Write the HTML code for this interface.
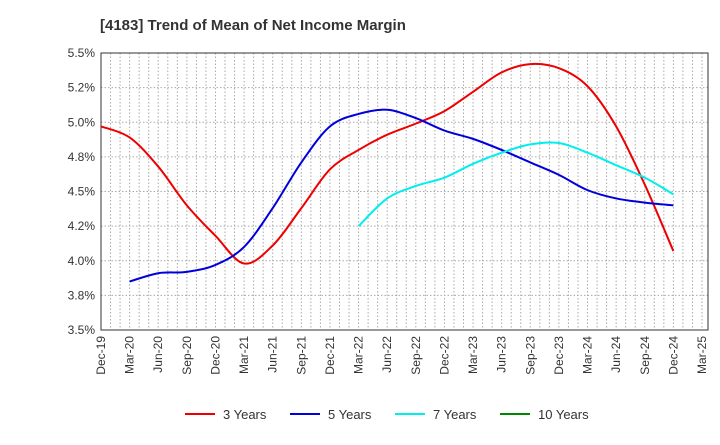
<!DOCTYPE html>
<html><head><meta charset="utf-8"><style>
body{margin:0;background:#fff;font-family:"Liberation Sans",sans-serif}
svg text{font-family:"Liberation Sans",sans-serif}
</style></head><body>
<svg width="720" height="440">
<text x="100" y="30" font-size="15" font-weight="bold" fill="#333">[4183]  Trend of Mean of Net Income Margin</text>
<g id="grid"></g><g id="axes"></g><g id="series"></g><g id="legend"></g>
</svg>
<script>
const xLabels=["Dec-19","Mar-20","Jun-20","Sep-20","Dec-20","Mar-21","Jun-21","Sep-21","Dec-21","Mar-22","Jun-22","Sep-22","Dec-22","Mar-23","Jun-23","Sep-23","Dec-23","Mar-24","Jun-24","Sep-24","Dec-24","Mar-25"];
const yTicks=[3.5,3.75,4.0,4.25,4.5,4.75,5.0,5.25,5.5];
const yTickLabels=["3.5%","3.8%","4.0%","4.2%","4.5%","4.8%","5.0%","5.2%","5.5%"];
const s3=[4.97,4.89,4.68,4.40,4.18,3.98,4.11,4.38,4.66,4.80,4.91,4.99,5.08,5.22,5.36,5.42,5.39,5.26,4.97,4.55,4.07];
const s5=[null,3.85,3.91,3.92,3.97,4.10,4.38,4.71,4.97,5.06,5.09,5.03,4.94,4.88,4.80,4.71,4.62,4.51,4.45,4.42,4.40];
const s7=[null,null,null,null,null,null,null,null,null,4.25,4.45,4.54,4.60,4.70,4.78,4.84,4.85,4.78,4.69,4.60,4.48];
const s10=[];
const L=101,R=702,FR=708,T=53,B=330;
const X=i=>L+(R-L)*i/21, Y=v=>B-(v-3.5)/2*(B-T);
const ns="http://www.w3.org/2000/svg";
function mk(t,a,p){const e=document.createElementNS(ns,t);for(const k in a)e.setAttribute(k,a[k]);p.appendChild(e);return e;}
const g=document.getElementById('grid'),ax=document.getElementById('axes'),se=document.getElementById('series'),lg=document.getElementById('legend');
for(let m=1;m<=65;m++){const x=L+(R-L)*m/63;if(x>=FR)break;const l=mk('line',{x1:x,x2:x,y1:T,y2:B,stroke:'#aaa','stroke-dasharray':'1.5,2','stroke-width':1},g);

}
yTicks.forEach((v,i)=>{const l=mk('line',{x1:L,x2:FR,y1:Y(v),y2:Y(v),stroke:'#aaa','stroke-dasharray':'1.5,2'},g);


const t=mk('text',{x:L-6,y:Y(v)+4,'text-anchor':'end','font-size':12,fill:'#333'},ax);t.textContent=yTickLabels[i];

});
const fr=mk('rect',{x:L,y:T,width:FR-L,height:B-T,fill:'none',stroke:'#333'},ax);


xLabels.forEach((s,i)=>{const x=X(i);const t=mk('text',{x:x+4,y:B+6,'text-anchor':'end','font-size':12,fill:'#333',transform:`rotate(-90 ${x+4} ${B+6})`},ax);t.textContent=s;

});
function path(d){const p=[];d.forEach((v,i)=>{if(v!=null)p.push([X(i),Y(v)]);});if(p.length<2)return '';
let s=`M${p[0][0]},${p[0][1]}`;for(let i=0;i<p.length-1;i++){const p0=p[i-1]||p[i],p1=p[i],p2=p[i+1],p3=p[i+2]||p2;
s+=` C${p1[0]+(p2[0]-p0[0])/6},${p1[1]+(p2[1]-p0[1])/6} ${p2[0]-(p3[0]-p1[0])/6},${p2[1]-(p3[1]-p1[1])/6} ${p2[0]},${p2[1]}`;}return s;}
const series=[[s3,'#e00','3 Years'],[s5,'#00d','5 Years'],[s7,'#0ee','7 Years'],[s10,'#080','10 Years']];
series.forEach(([d,c,n],k)=>{const ps=path(d);if(ps){const p=mk('path',{d:ps,fill:'none',stroke:c,'stroke-width':2},se);

}
const lx=185+k*105;const l=mk('line',{x1:lx,x2:lx+30,y1:414,y2:414,stroke:c,'stroke-width':2},lg);


const t=mk('text',{x:lx+38,y:419,'font-size':13,fill:'#333'},lg);t.textContent=n;

});
</script>
</body></html>
